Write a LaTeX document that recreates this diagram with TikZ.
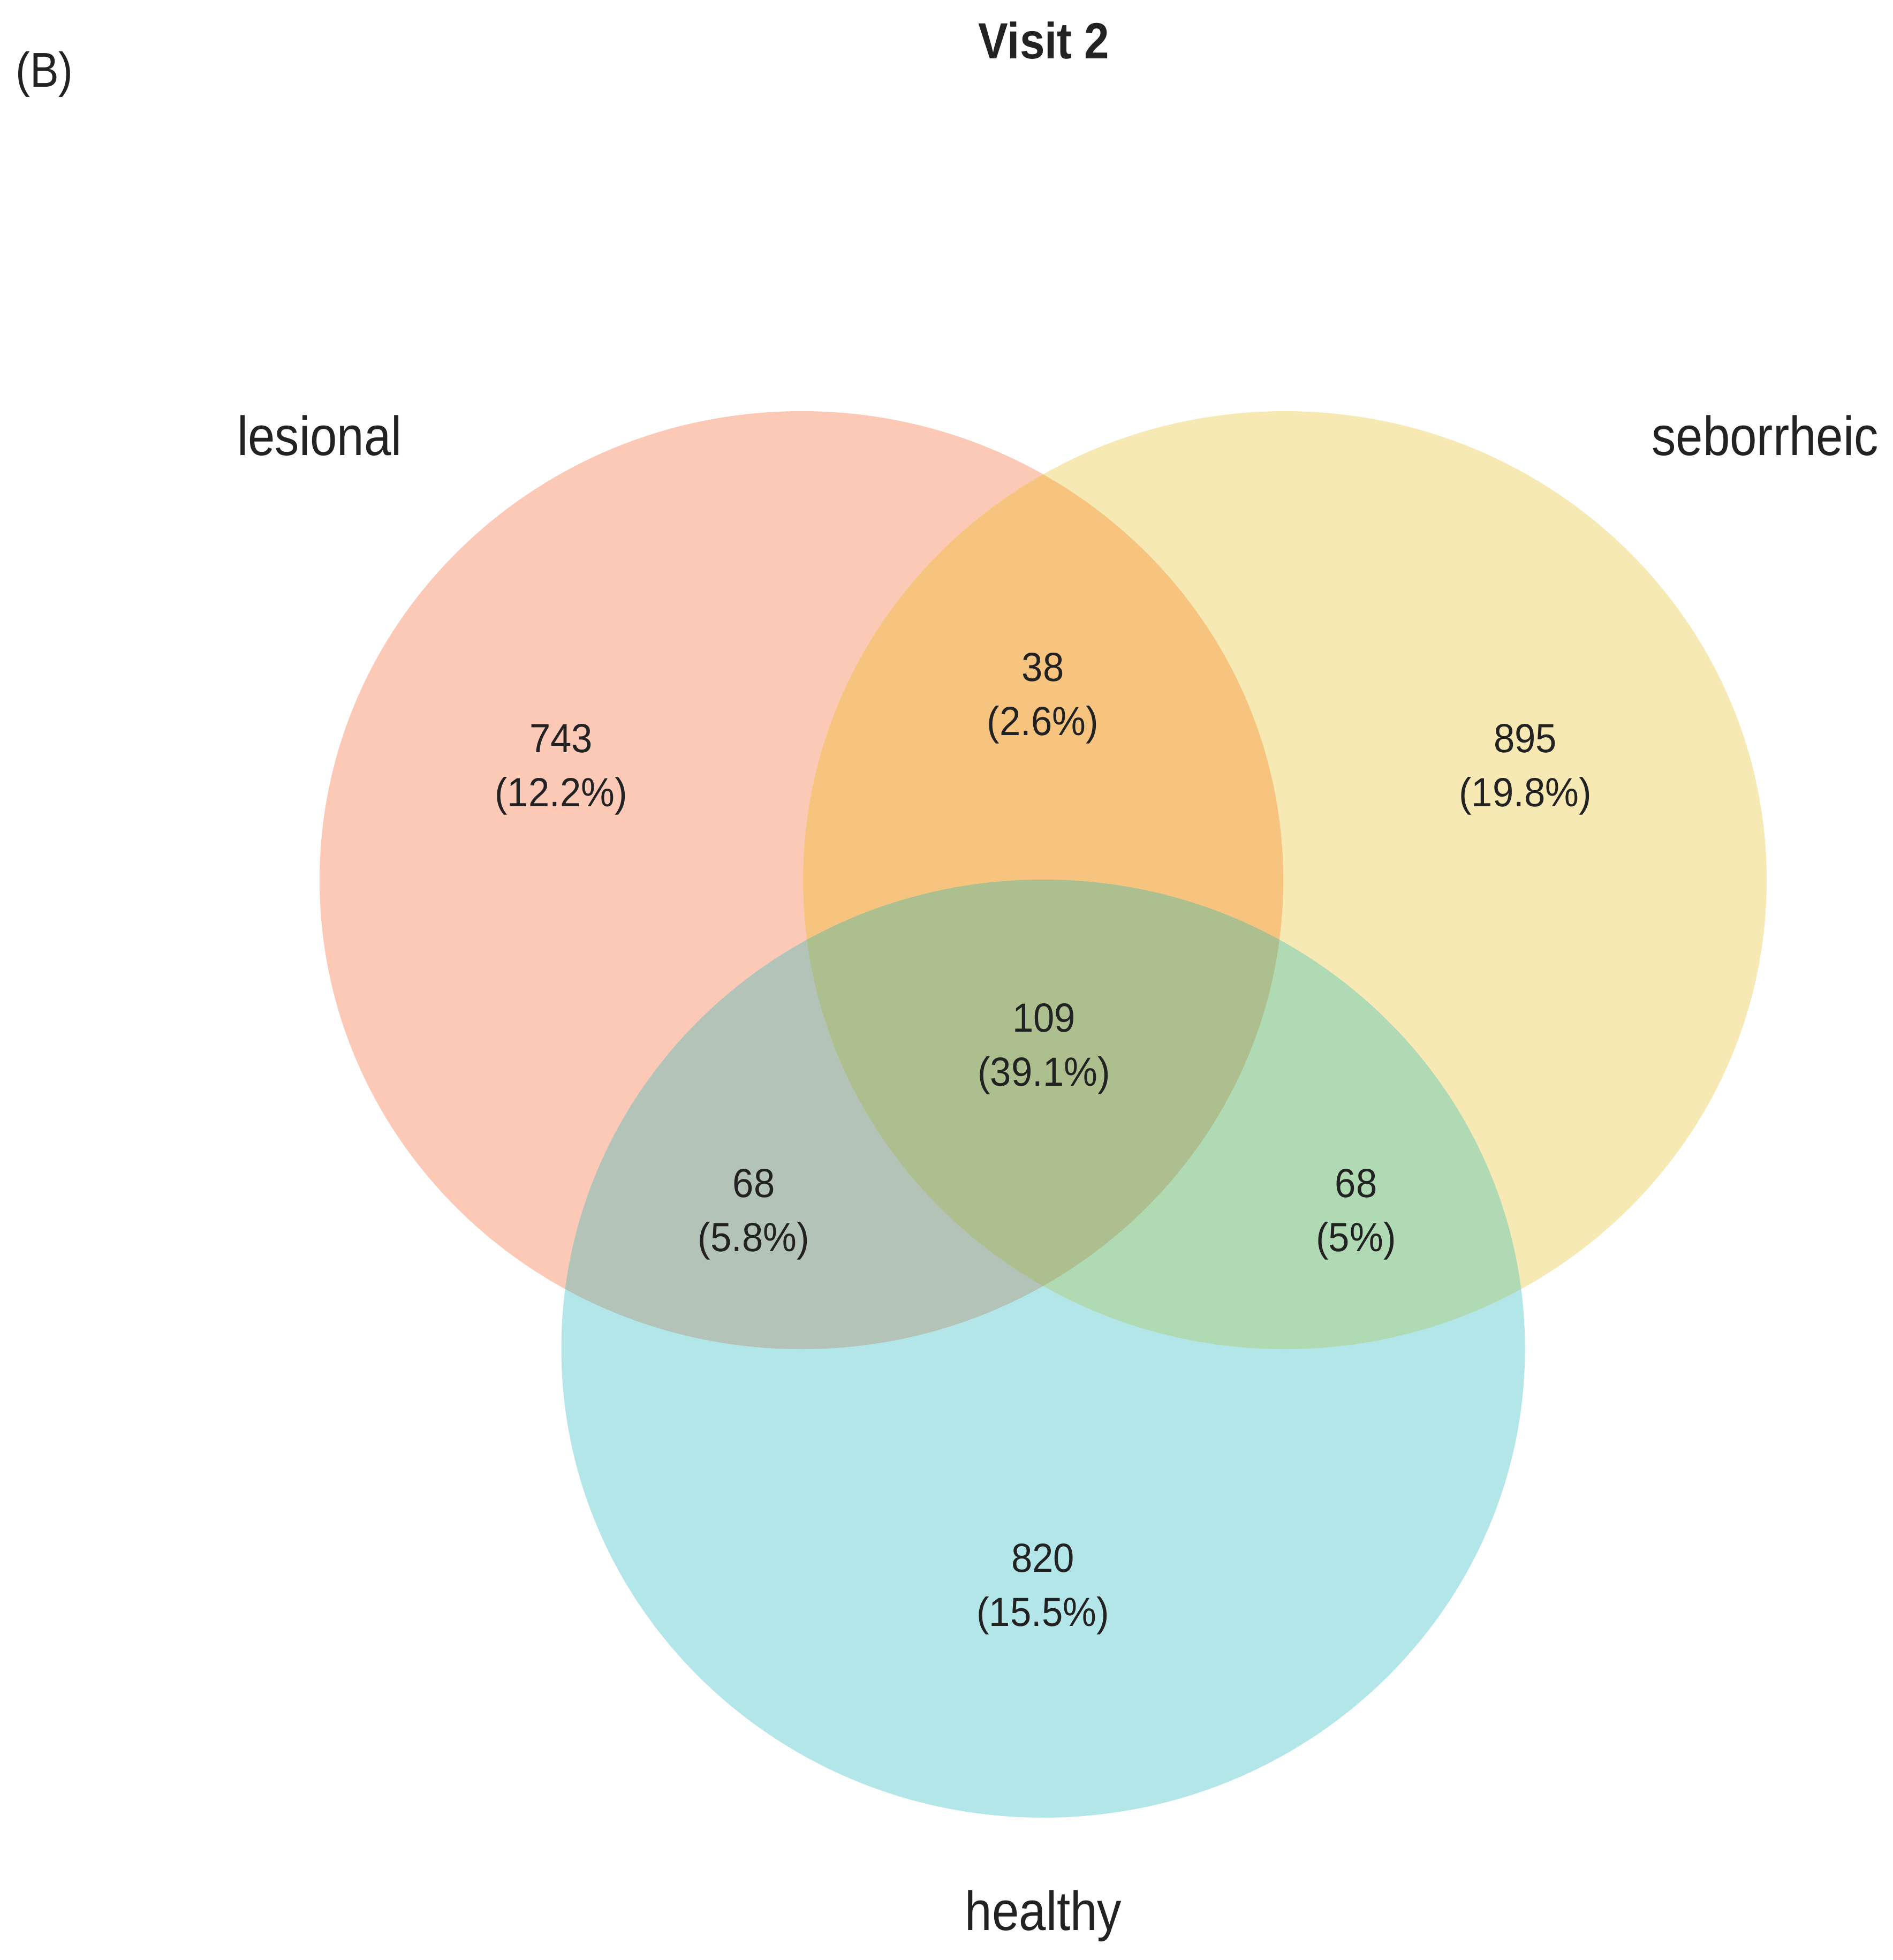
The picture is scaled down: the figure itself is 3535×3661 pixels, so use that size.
\documentclass[tikz,border=0pt]{standalone}
\usepackage{fontspec}
\newfontfamily\vf[FakeStretch=0.88]{Liberation Sans}
\newfontfamily\vn[FakeStretch=0.93]{Liberation Sans}
\definecolor{cL}{HTML}{FBC9B5}
\definecolor{cY}{HTML}{F6E9B3}
\definecolor{cH}{HTML}{B3E6E9}
\definecolor{cLY}{HTML}{F6C47E}
\definecolor{cLH}{HTML}{B3C3B7}
\definecolor{cYH}{HTML}{B0DAB4}
\definecolor{cLYH}{HTML}{ADBF8F}
\definecolor{txt}{HTML}{222222}
\tikzset{
  numtxt/.style={font=\vn\fontsize{21.6}{25}\selectfont, anchor=base, text=txt, inner sep=0pt},
  setlabel/.style={font=\vf\fontsize{29.3}{34}\selectfont, anchor=base, text=txt, inner sep=0pt},
}
\def\Lset{(1497,1644) ellipse [x radius=900, y radius=876]}
\def\Yset{(2400,1644) ellipse [x radius=900, y radius=876]}
\def\Hset{(1948.5,2519) ellipse [x radius=900, y radius=876]}
\begin{document}
\begin{tikzpicture}[x={(0.01cm,0)}, y={(0,-0.01cm)}]
\useasboundingbox (0,0) rectangle (3535,3661);
\fill[white] (0,0) rectangle (3535,3661);
% base circles
\fill[cL] \Lset;
\fill[cY] \Yset;
\fill[cH] \Hset;
% pairwise overlaps
\begin{scope}
  \clip \Lset;
  \fill[cLY] \Yset;
  \fill[cLH] \Hset;
\end{scope}
\begin{scope}
  \clip \Yset;
  \fill[cYH] \Hset;
\end{scope}
\begin{scope}
  \clip \Lset;
  \clip \Yset;
  \fill[cLYH] \Hset;
\end{scope}
% titles
\node[font=\vf\bfseries\fontsize{27}{32}\selectfont, anchor=base, text=txt, inner sep=0pt] (title) at (1950,110) {Visit 2};
\node[font=\vf\fontsize{26}{30}\selectfont, anchor=base, text=txt, inner sep=0pt] (panel) at (83,163) {(B)};
% set labels
\node[setlabel] (lesional) at (597,850) {lesional};
\node[setlabel] (seborrheic) at (3297,850) {seborrheic};
\node[setlabel] (healthy) at (1949,3605) {healthy};
% region counts
\node[numtxt] (n743) at (1048,1405) {743};
\node[numtxt] (p743) at (1048,1506) {(12.2\%)};
\node[numtxt] (n38) at (1948,1272) {38};
\node[numtxt] (p38) at (1948,1373) {(2.6\%)};
\node[numtxt] (n895) at (2849,1405) {895};
\node[numtxt] (p895) at (2849,1506) {(19.8\%)};
\node[numtxt] (n109) at (1950,1927) {109};
\node[numtxt] (p109) at (1950,2028) {(39.1\%)};
\node[numtxt] (n68a) at (1408,2236) {68};
\node[numtxt] (p68a) at (1408,2337) {(5.8\%)};
\node[numtxt] (n68b) at (2533,2236) {68};
\node[numtxt] (p68b) at (2533,2337) {(5\%)};
\node[numtxt] (n820) at (1948,2936) {820};
\node[numtxt] (p820) at (1948,3037) {(15.5\%)};
\end{tikzpicture}
\end{document}
